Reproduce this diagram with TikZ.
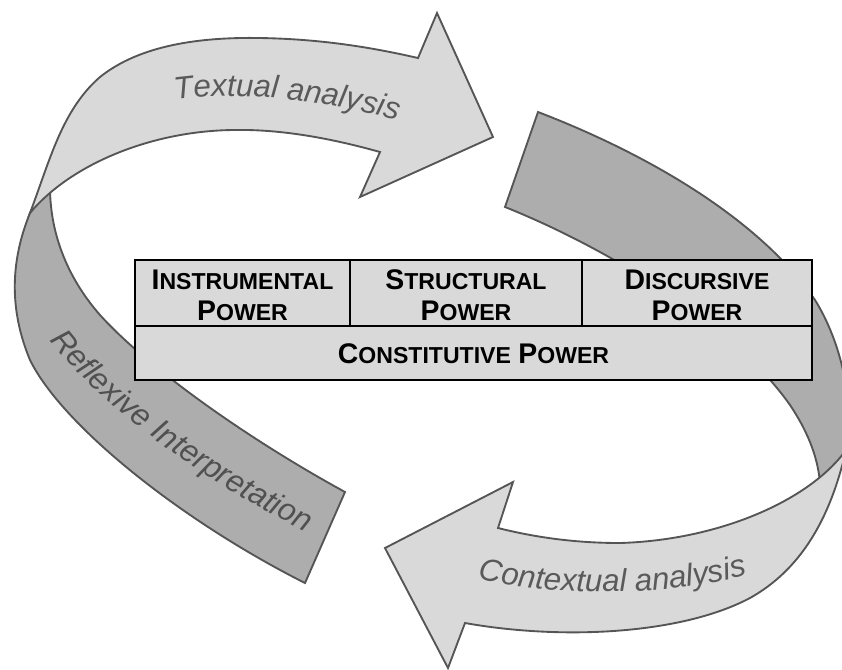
\documentclass[tikz,border=0pt]{standalone}
\usepackage{fontspec}
\setmainfont{Liberation Sans}
\setsansfont{Liberation Sans}
\usetikzlibrary{decorations.text}
\definecolor{lightrib}{HTML}{D9D9D9}
\definecolor{darkrib}{HTML}{ADADAD}
\definecolor{ribline}{HTML}{555555}
\definecolor{labgray}{HTML}{5A5A5A}
\definecolor{labdark}{HTML}{505050}
\definecolor{tabfill}{HTML}{D9D9D9}
\newcommand\labfont{\fontsize{23.5pt}{28pt}\selectfont\itshape}
\newcommand\initcap[1]{{\fontsize{21.3pt}{23.25pt}\selectfont #1}}
\newcommand\restcap[1]{{\fontsize{17.3pt}{23.25pt}\selectfont #1}}
\begin{document}
\begin{tikzpicture}[x=0.75pt,y=-0.75pt,
  ribbonlight/.style={fill=lightrib,draw=ribline,line width=1.4pt},
  ribbondark/.style={fill=darkrib,draw=ribline,line width=1.4pt},
  tablebox/.style={fill=tabfill,draw=black,line width=1.6pt},
  tableline/.style={draw=black,line width=1.6pt},
  celltext/.style={align=center,inner sep=0pt,font=\fontsize{20pt}{23.25pt}\selectfont\bfseries}
]
\useasboundingbox (0,0) rectangle (842,669);
\clip (0,0) rectangle (842,669);

% back (dark) parts of the ribbons
\path[ribbondark] (42,190) -- (30,213) .. controls (15,250) and (5,300) .. (30,360)
  .. controls (62,425) and (180,520) .. (305,583) -- (345,492)
  .. controls (250,440) and (150,370) .. (100,315)
  .. controls (65,275) and (50,230) .. (50,187) -- (52,175) -- cycle;

\path[ribbondark] (538,112) .. controls (650,155) and (760,220) .. (815,300)
  .. controls (840,340) and (855,400) .. (846,450) -- (835,475) -- (820,483)
  .. controls (818,460) and (810,435) .. (790,405)
  .. controls (730,320) and (600,245) .. (505,207) -- cycle;

% front (light) arrows
\path[ribbonlight] (30,213) .. controls (50,160) and (62,110) .. (100,77)
  .. controls (140,45) and (200,37) .. (260,38)
  .. controls (320,39) and (370,47) .. (418,58) -- (437,13) -- (493,137) -- (360,197) -- (380,152)
  .. controls (330,138) and (280,129) .. (233,130)
  .. controls (150,131) and (70,165) .. cycle;

\path[ribbonlight] (846,450) .. controls (810,500) and (720,540) .. (620,543)
  .. controls (570,543) and (530,536) .. (498,528) -- (513,482) -- (385,548) -- (448,668) -- (465,623)
  .. controls (560,640) and (680,635) .. (750,598)
  .. controls (800,570) and (830,520) .. cycle;

% curved labels
\path[decorate,decoration={text along path,text align=left,text color=labgray,
  text={|\labfont|Textual analysis}}]
  (175,100) .. controls (235,92) and (320,95) .. (430,130);
\path[decorate,decoration={text along path,text align=left,text color=labgray,
  text={|\labfont|Contextual analysis}}]
  (478,578) .. controls (540,596) and (680,600) .. (770,568);
\path[decorate,decoration={text along path,text align=left,text color=labdark,
  text={|\labfont|Reflexive Interpretation}}]
  (50,340) .. controls (95,400) and (190,475) .. (318,538);

% table
\path[tablebox] (135,260) rectangle (812,380);
\draw[tableline] (135,326) -- (812,326);
\draw[tableline] (350,260) -- (350,326);
\draw[tableline] (582,260) -- (582,326);

\node[celltext] (instr) at (242.5,295) {\initcap{I}\restcap{NSTRUMENTAL}\\\initcap{P}\restcap{OWER}};
\node[celltext] (struct) at (466,295) {\initcap{S}\restcap{TRUCTURAL}\\\initcap{P}\restcap{OWER}};
\node[celltext] (disc) at (697,295) {\initcap{D}\restcap{ISCURSIVE}\\\initcap{P}\restcap{OWER}};
\node[celltext] (const) at (473.5,354) {\initcap{C}\restcap{ONSTITUTIVE} \initcap{P}\restcap{OWER}};
\end{tikzpicture}
\end{document}
